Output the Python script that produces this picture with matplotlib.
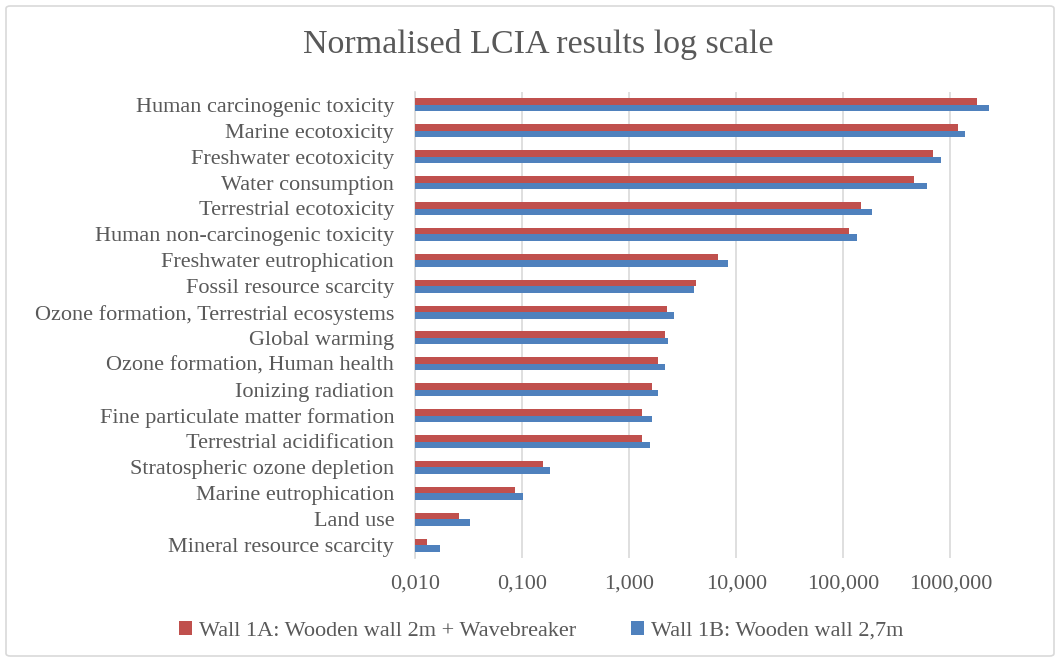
import numpy as np
import matplotlib
matplotlib.use("Agg")
from matplotlib import pyplot as plt
from matplotlib.patches import FancyBboxPatch
from matplotlib.ticker import FixedLocator, FuncFormatter

# data (normalised, log scale)
categories = [
    "Human carcinogenic toxicity",
    "Marine ecotoxicity",
    "Freshwater ecotoxicity",
    "Water consumption",
    "Terrestrial ecotoxicity",
    "Human non-carcinogenic toxicity",
    "Freshwater eutrophication",
    "Fossil resource scarcity",
    "Ozone formation, Terrestrial ecosystems",
    "Global warming",
    "Ozone formation, Human health",
    "Ionizing radiation",
    "Fine particulate matter formation",
    "Terrestrial acidification",
    "Stratospheric ozone depletion",
    "Marine eutrophication",
    "Land use",
    "Mineral resource scarcity",
]
wall_1a = [1760, 1170, 695, 462, 146, 113, 6.7, 4.23, 2.28, 2.17, 1.87, 1.62,
           1.33, 1.33, 0.156, 0.086, 0.026, 0.0129]
wall_1b = [2300, 1370, 819, 601, 186, 133, 8.4, 4.05, 2.65, 2.30, 2.17, 1.87,
           1.65, 1.57, 0.181, 0.103, 0.0327, 0.0171]
series_names = ["Wall 1A: Wooden wall 2m + Wavebreaker", "Wall 1B: Wooden wall 2,7m"]
tick_values = [0.01, 0.1, 1, 10, 100, 1000]

RED = "#C0504D"
BLUE = "#4F81BD"
TEXT = "#595959"
GRID = "#D9D9D9"
FONT = "Liberation Serif"

W, H = 1060, 662
fig = plt.figure(figsize=(W / 100, H / 100), dpi=100)

# chart border (kept behind the axes)
border = FancyBboxPatch(
    (6 / W, 6 / H), (W - 12) / W, (H - 12) / H,
    boxstyle="round,pad=0,rounding_size=0.004",
    transform=fig.transFigure, facecolor="white", edgecolor=GRID,
    linewidth=1.2, zorder=-10)
fig.patches.append(border)

ax = fig.add_axes([415 / W, 1 - 558 / H, (1020 - 415) / W, (558 - 92) / H])
ax.set_facecolor("none")

y = np.arange(len(categories))
h = 0.25
ax.barh(y - h / 2, wall_1a, height=h, color=RED, label=series_names[0], zorder=3)
ax.barh(y + h / 2, wall_1b, height=h, color=BLUE, label=series_names[1], zorder=3)

ax.set_xscale("log")
ax.set_xlim(0.01, 10 ** 3.65)
ax.set_ylim(len(categories) - 0.5, -0.5)

ax.xaxis.set_major_locator(FixedLocator(tick_values))
ax.xaxis.set_minor_locator(FixedLocator([]))
ax.xaxis.set_major_formatter(FuncFormatter(lambda v, p: f"{v:.3f}".replace(".", ",")))
ax.grid(axis="x", color=GRID, linewidth=1.2, zorder=0)

ax.set_yticks(y)
ax.set_yticklabels(categories)
ax.tick_params(axis="both", length=0, colors=TEXT)
ax.tick_params(axis="y", pad=15)
ax.tick_params(axis="x", pad=12)
for lbl in ax.get_yticklabels() + ax.get_xticklabels():
    lbl.set_fontfamily(FONT)
    lbl.set_fontsize(16)
    lbl.set_color(TEXT)

for side in ["top", "right", "bottom"]:
    ax.spines[side].set_visible(False)
ax.spines["left"].set_color(GRID)
ax.spines["left"].set_linewidth(1.2)

fig.text(538 / W, 1 - 44 / H, "Normalised LCIA results log scale",
         ha="center", va="center", fontsize=24.5, color=TEXT, family=FONT)

leg = fig.legend(loc="center", bbox_to_anchor=(541 / W, 1 - 631 / H), ncol=2,
                 frameon=False, prop={"family": FONT, "size": 16},
                 handlelength=0.6, handleheight=0.6, handletextpad=0.3,
                 columnspacing=2.45, labelcolor=TEXT)

fig.savefig("out.png", dpi=100)
